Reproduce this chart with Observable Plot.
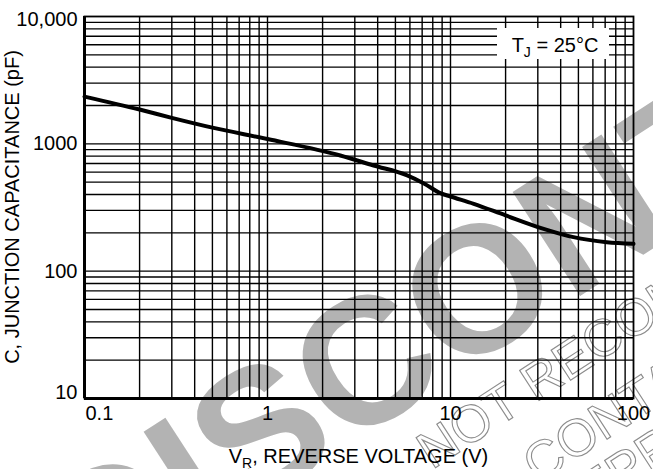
<!DOCTYPE html>
<html><head><meta charset="utf-8">
<script src="https://cdn.jsdelivr.net/npm/d3@7"></script>
<script src="https://cdn.jsdelivr.net/npm/@observablehq/plot@0.6"></script>
<style>html,body{margin:0;padding:0;background:#fff;} svg{display:block}</style>
</head><body><div id="chart"></div>
<script>
// ---- data ----
const voltage = [0.1, 0.2, 0.3, 0.5, 1, 2.5, 3.8, 5.8, 7.2, 8.8, 10, 13.4, 20, 31, 47, 71.5, 100];
const capacitance = [2350, 1860, 1600, 1340, 1090, 810, 676, 565, 486, 410, 386, 338, 274, 219, 185, 169, 164];

const xGridValues = [0.2,0.3,0.4,0.5,0.6,0.7,0.8,0.9,1,2,3,4,5,6,7,8,9,10,20,30,40,50,60,70,80,90];
const yGridValues = [20,30,40,50,60,70,80,90,100,200,300,400,500,600,700,800,900,1000,2000,3000,4000,5000,6000,7000,8000,9000];
const xTickValues = [0.1, 1, 10, 100];
const xTickLabels = ["0.1", "1", "10", "100"];
const yTickValues = [10, 100, 1000, 10000];
const yTickLabels = ["10", "100", "1000", "10,000"];
const xTitleParts = ["V", "R", ", REVERSE VOLTAGE (V)"];
const yTitle = "C, JUNCTION CAPACITANCE (pF)";
const noteParts = ["T", "J", " = 25°C"];
const watermarkWord = "DISCONTINUED";
const watermarkLines = ["NOT RECOMMENDED FOR NEW DESIGN", "CONTACT YOUR ON SEMICONDUCTOR", "REPRESENTATIVE FOR INFORMATION"];

(function () {
const curveData = voltage.map((v, i) => ({v, c: capacitance[i]}));
const font = "'Liberation Sans', Arial, Helvetica, sans-serif";
const W = 653, H = 469, mL = 84, mR = 20, mT = 16, mB = 71;
const xLabel = d => xTickLabels[xTickValues.indexOf(d)];
const yLabel = d => yTickLabels[yTickValues.indexOf(d)];

const chart = Plot.plot({
  width: W, height: H,
  marginLeft: mL, marginRight: mR, marginTop: mT, marginBottom: mB,
  x: {type: "log", domain: [0.1, 100], axis: null},
  y: {type: "log", domain: [10, 10000], axis: null},
  style: {fontFamily: font, fontSize: "20px", background: "white", color: "#000"},
  marks: [
    Plot.ruleX(xGridValues, {x: d => d, stroke: "#000", strokeWidth: 1.4}),
    Plot.ruleY(yGridValues, {y: d => d, stroke: "#000", strokeWidth: 1.4}),
    Plot.frame({stroke: "#000", strokeWidth: 1.8}),
    Plot.ruleX([0.1], {x: d => d, stroke: "#000", strokeWidth: 3}),
    Plot.ruleY([10], {y: d => d, stroke: "#000", strokeWidth: 3}),
    Plot.line(curveData, {x: "v", y: "c", curve: "monotone-x", stroke: "#000", strokeWidth: 4}),
    Plot.text(xTickValues.slice(0, 1), {x: d => d, frameAnchor: "bottom", dy: 21, dx: 1, textAnchor: "start", text: xLabel, fontSize: 20, fill: "#000"}),
    Plot.text(xTickValues.slice(1), {x: d => d, frameAnchor: "bottom", dy: 21, textAnchor: "middle", text: xLabel, fontSize: 20, fill: "#000"}),
    Plot.text(yTickValues.slice(1, 3), {y: d => d, frameAnchor: "left", dx: -7, textAnchor: "end", text: yLabel, fontSize: 20, fill: "#000"}),
    Plot.text(yTickValues.slice(0, 1), {y: d => d, frameAnchor: "left", dx: -7, dy: -6, textAnchor: "end", text: yLabel, fontSize: 20, fill: "#000"}),
    Plot.text(yTickValues.slice(3), {y: d => d, frameAnchor: "left", dx: -7, dy: 3, textAnchor: "end", text: yLabel, fontSize: 20, fill: "#000"})
  ]
});

const svg = d3.select(chart);
const xs = chart.scale("x"), ys = chart.scale("y");
const pLeft = xs.apply(0.1), pRight = xs.apply(100), pTop = ys.apply(10000), pBottom = ys.apply(10);

// watermark behind everything
const wm = svg.insert("g", "g").attr("font-family", font).attr("text-anchor", "start");
const ang = -33;
wm.append("text")
  .attr("transform", `translate(92,613) rotate(${ang})`)
  .attr("text-anchor", "start")
  .attr("font-size", 180).attr("font-weight", "bold").attr("fill", "#b3b3b3")
  .text(watermarkWord);
const starts = [[432, 470], [538, 484], [560, 532]];
watermarkLines.forEach((t, i) => {
  wm.append("text")
    .attr("transform", `translate(${starts[i][0]},${starts[i][1]}) rotate(${ang})`)
    .attr("text-anchor", "start")
    .attr("font-size", 52).attr("fill", "none").attr("stroke", "#8c8c8c").attr("stroke-width", 1.1)
    .text(t);
});

// x title with subscript
const xt = svg.append("text").attr("x", (pLeft + pRight) / 2).attr("y", 463)
  .attr("text-anchor", "middle").attr("font-family", font).attr("font-size", 20).attr("fill", "#000");
xt.append("tspan").text(xTitleParts[0]);
xt.append("tspan").attr("font-size", 14).attr("dy", 5).text(xTitleParts[1]);
xt.append("tspan").attr("dy", -5).text(xTitleParts[2]);

// y title
svg.append("text")
  .attr("transform", `translate(19,${(pTop + pBottom) / 2}) rotate(-90)`)
  .attr("text-anchor", "middle").attr("font-family", font).attr("font-size", 20).attr("fill", "#000")
  .text(yTitle);

// T_J annotation box
const bx = pRight - 136, by = pTop + 12, bw = 112, bh = 31;
const g = svg.append("g");
g.append("rect").attr("x", bx).attr("y", by).attr("width", bw).attr("height", bh).attr("fill", "#fff");
const nt = g.append("text").attr("x", bx + bw / 2 + 2).attr("y", by + 24)
  .attr("text-anchor", "middle").attr("font-family", font).attr("font-size", 20).attr("fill", "#000");
nt.append("tspan").text(noteParts[0]);
nt.append("tspan").attr("font-size", 14).attr("dy", 5).text(noteParts[1]);
nt.append("tspan").attr("dy", -5).text(noteParts[2]);

document.getElementById("chart").appendChild(chart);
})();
</script>
</body></html>
